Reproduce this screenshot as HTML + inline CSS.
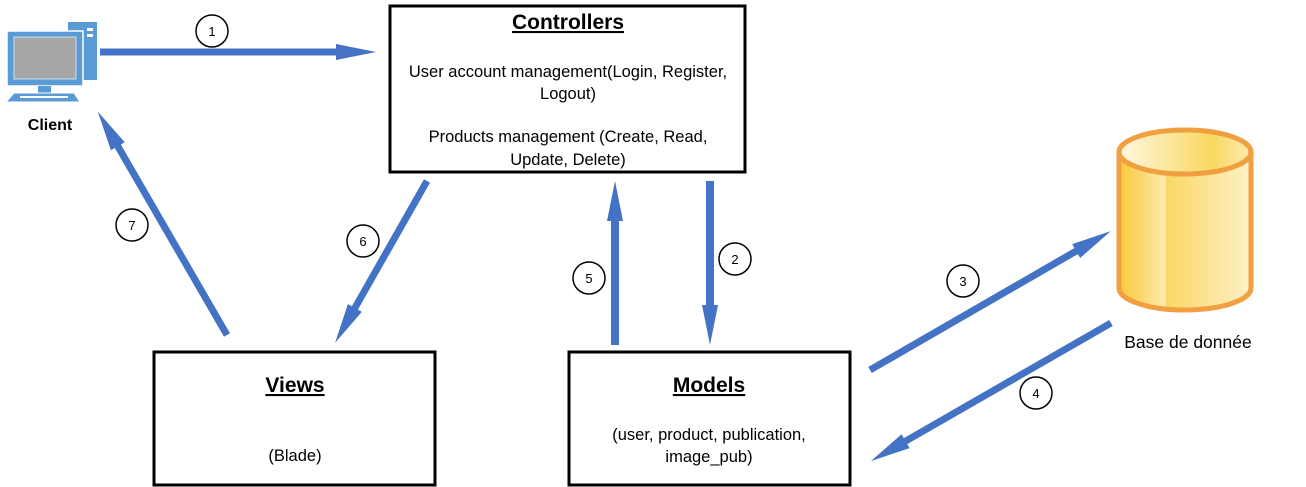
<!DOCTYPE html>
<html><head><meta charset="utf-8"><style>
html,body{margin:0;padding:0;background:#fff;}
svg{display:block}
text{font-family:"Liberation Sans",sans-serif;fill:#000}
</style></head><body>
<svg width="1306" height="487" viewBox="0 0 1306 487" xmlns="http://www.w3.org/2000/svg">
<defs>
<linearGradient id="cyl" x1="0" x2="1" y1="0" y2="0">
<stop offset="0" stop-color="#F9C936"/><stop offset="0.35" stop-color="#FCEAB0"/><stop offset="0.36" stop-color="#FAD766"/><stop offset="1" stop-color="#FDF1C6"/>
</linearGradient>
<linearGradient id="top" x1="0" x2="1"><stop offset="0" stop-color="#FFF8E0"/><stop offset="0.7" stop-color="#F9D860"/><stop offset="1" stop-color="#FCEBB0"/></linearGradient>
</defs>

<!-- Client icon -->
<rect x="68" y="22" width="29" height="58" fill="#5B9BD5"/>
<rect x="87" y="28" width="6" height="3" fill="#fff"/><rect x="87" y="34" width="6" height="3" fill="#fff"/>
<rect x="7" y="31" width="76" height="55" fill="#5B9BD5" stroke="#fff" stroke-width="1.5"/>
<rect x="14" y="37" width="62" height="42" fill="#A6A6A6" stroke="#CFE2F3" stroke-width="1"/>
<rect x="38" y="86" width="13" height="7" fill="#5B9BD5"/>
<path d="M14,93 L74,93 L80,102 L6,102 Z" fill="#5B9BD5" stroke="#fff" stroke-width="1"/>
<rect x="20" y="96" width="48" height="2" fill="#fff"/>
<text x="50" y="130" font-size="16" font-weight="bold" text-anchor="middle">Client</text>

<!-- Boxes -->
<rect x="390" y="6" width="355" height="166" fill="#fff" stroke="#000" stroke-width="3"/>
<text x="568" y="29" font-size="21" font-weight="bold" text-anchor="middle" text-decoration="underline">Controllers</text>
<text x="568" y="77" font-size="16.5" text-anchor="middle">User account management(Login, Register,</text>
<text x="568" y="99" font-size="16.5" text-anchor="middle">Logout)</text>
<text x="568" y="142" font-size="16.5" text-anchor="middle">Products management (Create, Read,</text>
<text x="568" y="165" font-size="16.5" text-anchor="middle">Update, Delete)</text>

<rect x="154" y="352" width="281" height="133" fill="#fff" stroke="#000" stroke-width="3"/>
<text x="295" y="392" font-size="21" font-weight="bold" text-anchor="middle" text-decoration="underline">Views</text>
<text x="295" y="461" font-size="16.5" text-anchor="middle">(Blade)</text>

<rect x="569" y="352" width="281" height="133" fill="#fff" stroke="#000" stroke-width="3"/>
<text x="709" y="392" font-size="21" font-weight="bold" text-anchor="middle" text-decoration="underline">Models</text>
<text x="709" y="440" font-size="16.5" text-anchor="middle">(user, product, publication,</text>
<text x="709" y="462" font-size="16.5" text-anchor="middle">image_pub)</text>

<!-- Database -->
<path d="M1119,152 L1119,288 A66,22 0 0 0 1251,288 L1251,152 Z" fill="url(#cyl)" stroke="#F0A040" stroke-width="5"/>
<ellipse cx="1185" cy="152" rx="66" ry="22" fill="url(#top)" stroke="#F0A040" stroke-width="5"/>
<text x="1188" y="348" font-size="17.5" text-anchor="middle">Base de donnée</text>

<!-- Arrows -->
<g fill="#4472C4">
<g transform="translate(100,52) rotate(0)"><rect x="0" y="-3.5" width="237" height="7"/><path d="M236,-8 L276,0 L236,8 Z"/></g>
<g transform="translate(227,335) rotate(-120.05)"><rect x="0" y="-3.5" width="219" height="7"/><path d="M218,-8 L258,0 L218,8 Z"/></g>
<g transform="translate(427,181) rotate(119.6)"><rect x="0" y="-3.5" width="147" height="7"/><path d="M146,-8 L186,0 L146,8 Z"/></g>
<g transform="translate(615,345) rotate(-90)"><rect x="0" y="-4" width="125" height="8"/><path d="M124,-8 L164,0 L124,8 Z"/></g>
<g transform="translate(710,181) rotate(90)"><rect x="0" y="-4" width="125" height="8"/><path d="M124,-8 L164,0 L124,8 Z"/></g>
<g transform="translate(870,370) rotate(-29.98)"><rect x="0" y="-3.5" width="239" height="7"/><path d="M238,-8 L278,0 L238,8 Z"/></g>
<g transform="translate(1111,323) rotate(150.1)"><rect x="0" y="-3.5" width="238" height="7"/><path d="M237,-8 L277,0 L237,8 Z"/></g>
</g>

<!-- Number circles -->
<g font-size="13" text-anchor="middle">
<circle cx="212" cy="31" r="16" fill="#fff" stroke="#000" stroke-width="1.5"/><text x="212" y="36">1</text>
<circle cx="735" cy="259" r="16" fill="#fff" stroke="#000" stroke-width="1.5"/><text x="735" y="264">2</text>
<circle cx="963" cy="281" r="16" fill="#fff" stroke="#000" stroke-width="1.5"/><text x="963" y="286">3</text>
<circle cx="1036" cy="393" r="16" fill="#fff" stroke="#000" stroke-width="1.5"/><text x="1036" y="398">4</text>
<circle cx="589" cy="278" r="16" fill="#fff" stroke="#000" stroke-width="1.5"/><text x="589" y="283">5</text>
<circle cx="363" cy="241" r="16" fill="#fff" stroke="#000" stroke-width="1.5"/><text x="363" y="246">6</text>
<circle cx="132" cy="225" r="16" fill="#fff" stroke="#000" stroke-width="1.5"/><text x="132" y="230">7</text>
</g>
</svg>
</body></html>
